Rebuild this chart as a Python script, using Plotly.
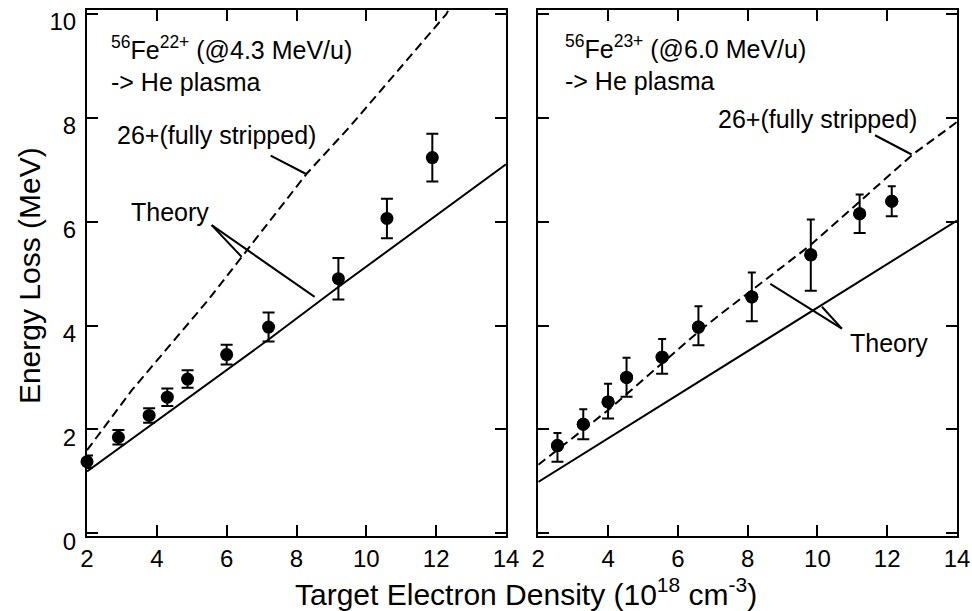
import plotly.graph_objects as go

# ---------------- data ----------------
# Left panel: 56Fe22+ @4.3 MeV/u
left_x = [2.0, 2.9, 3.78, 4.3, 4.88, 6.0, 7.2, 9.2, 10.59, 11.89]
left_y = [1.38, 1.85, 2.27, 2.62, 2.97, 3.44, 3.97, 4.90, 6.06, 7.23]
left_err = [0.12, 0.14, 0.14, 0.17, 0.17, 0.19, 0.28, 0.40, 0.38, 0.46]

left_theory_x = [2, 4, 7.2, 9.2, 14]
left_theory_y = [1.19, 2.17, 3.73, 4.74, 7.10]

left_full_x = [2, 3.29, 5.47, 6.43, 8.29, 9.52, 12.29, 12.45]
left_full_y = [1.60, 2.76, 4.49, 5.32, 6.92, 7.82, 9.99, 10.2]

# Right panel: 56Fe23+ @6.0 MeV/u
right_x = [2.55, 3.29, 4.0, 4.53, 5.55, 6.59, 8.12, 9.81, 11.21, 12.13]
right_y = [1.69, 2.10, 2.53, 3.00, 3.39, 3.97, 4.55, 5.36, 6.15, 6.39]
right_err_up = [0.24, 0.29, 0.35, 0.38, 0.35, 0.40, 0.47, 0.68, 0.37, 0.29]
right_err_dn = [0.31, 0.29, 0.32, 0.37, 0.32, 0.35, 0.47, 0.69, 0.37, 0.29]

right_theory_x = [2, 9.88, 14]
right_theory_y = [0.99, 4.29, 6.02]

right_full_x = [2, 4, 6.59, 7.13, 9.79, 12.75, 13.93, 14]
right_full_y = [1.32, 2.37, 3.88, 4.17, 5.54, 7.30, 7.88, 7.92]

x_ticks = [2, 4, 6, 8, 10, 12, 14]
y_ticks = [0, 2, 4, 6, 8, 10]

FONT = "Liberation Sans, Arial, sans-serif"
BLACK = "black"

fig = go.Figure()

# theory lines
fig.add_trace(go.Scatter(x=left_theory_x, y=left_theory_y, mode="lines",
                         line=dict(color=BLACK, width=2), xaxis="x", yaxis="y"))
fig.add_trace(go.Scatter(x=left_full_x, y=left_full_y, mode="lines",
                         line=dict(color=BLACK, width=2, dash="9px,5px"), xaxis="x", yaxis="y"))
fig.add_trace(go.Scatter(x=right_theory_x, y=right_theory_y, mode="lines",
                         line=dict(color=BLACK, width=2), xaxis="x2", yaxis="y2"))
fig.add_trace(go.Scatter(x=right_full_x, y=right_full_y, mode="lines",
                         line=dict(color=BLACK, width=2, dash="9px,5px"), xaxis="x2", yaxis="y2"))

# data points
fig.add_trace(go.Scatter(x=left_x, y=left_y, mode="markers", cliponaxis=False,
                         marker=dict(color=BLACK, size=13, symbol="circle"),
                         error_y=dict(type="data", array=left_err, visible=True,
                                      color=BLACK, thickness=2, width=6),
                         xaxis="x", yaxis="y"))
zeros = [0] * len(right_x)
fig.add_trace(go.Scatter(x=right_x, y=right_y, mode="markers", cliponaxis=False,
                         marker=dict(color=BLACK, size=13, symbol="circle"),
                         error_y=dict(type="data", symmetric=False, array=right_err_up,
                                      arrayminus=zeros, visible=True,
                                      color=BLACK, thickness=2, width=4),
                         xaxis="x2", yaxis="y2"))
fig.add_trace(go.Scatter(x=right_x, y=right_y, mode="markers", cliponaxis=False,
                         marker=dict(color=BLACK, size=13, symbol="circle"),
                         error_y=dict(type="data", symmetric=False, array=zeros,
                                      arrayminus=right_err_dn, visible=True,
                                      color=BLACK, thickness=2, width=6),
                         xaxis="x2", yaxis="y2"))

axis_common = dict(showline=True, linecolor=BLACK, linewidth=2, mirror="ticks",
                   ticks="inside", ticklen=11, tickwidth=2, tickcolor=BLACK,
                   showgrid=False, zeroline=False, ticklabeloverflow="allow",
                   automargin=False,
                   tickfont=dict(family=FONT, size=24, color=BLACK))

fig.update_layout(
    width=972, height=611,
    margin=dict(l=87, r=15, t=10, b=75),
    paper_bgcolor="white", plot_bgcolor="white",
    showlegend=False,
    xaxis=dict(domain=[0, 0.4816], range=[2, 14], tickvals=x_ticks, anchor="y", **axis_common),
    xaxis2=dict(domain=[0.5187, 1], range=[2, 14], tickvals=x_ticks, anchor="y2", **axis_common),
    yaxis=dict(domain=[0, 1], range=[-0.05, 10.07], tickvals=y_ticks, anchor="x",
               ticklabelshift=8, ticklabelstandoff=4, **axis_common),
    yaxis2=dict(domain=[0, 1], range=[-0.05, 10.07], tickvals=y_ticks, anchor="x2",
                showticklabels=False, **axis_common),
)

ann_font = dict(family=FONT, size=25, color=BLACK)
annotations = [
    dict(x=2.64, y=9.03, xref="x", yref="y",
         text="<sup>56</sup>Fe<sup>22+</sup> (@4.3 MeV/u)<br>-> He plasma"),
    dict(x=2.81, y=7.66, xref="x", yref="y", text="26+(fully stripped)"),
    dict(x=3.19, y=6.18, xref="x", yref="y", text="Theory"),
    dict(x=2.70, y=9.05, xref="x2", yref="y2",
         text="<sup>56</sup>Fe<sup>23+</sup> (@6.0 MeV/u)<br>-> He plasma"),
    dict(x=7.08, y=7.98, xref="x2", yref="y2", text="26+(fully stripped)"),
    dict(x=10.89, y=3.66, xref="x2", yref="y2", text="Theory"),
]
for a in annotations:
    fig.add_annotation(showarrow=False, xanchor="left", yanchor="middle", align="left",
                       font=ann_font, **a)

# axis titles
fig.add_annotation(text="Energy Loss (MeV)", xref="paper", yref="paper",
                   x=-0.0667, y=0.496, xanchor="center", yanchor="middle",
                   textangle=-90, showarrow=False,
                   font=dict(family=FONT, size=30, color=BLACK))
fig.add_annotation(text="Target Electron Density (10<sup>18</sup> cm<sup>-3</sup>)",
                   xref="paper", yref="paper", x=0.505, y=-0.1065,
                   xanchor="center", yanchor="middle", showarrow=False,
                   font=dict(family=FONT, size=30, color=BLACK))

# leader lines for labels
leaders = [
    ("x", "y", 7.26, 7.27, 8.29, 6.91),
    ("x", "y", 5.57, 5.93, 6.43, 5.32),
    ("x", "y", 5.57, 5.93, 8.52, 4.55),
    ("x2", "y2", 11.65, 7.66, 12.70, 7.29),
    ("x2", "y2", 10.70, 3.94, 8.65, 4.80),
    ("x2", "y2", 10.70, 3.94, 10.13, 4.36),
]
for xr, yr, x0, y0, x1, y1 in leaders:
    fig.add_shape(type="line", xref=xr, yref=yr, x0=x0, y0=y0, x1=x1, y1=y1,
                  line=dict(color=BLACK, width=2))

fig.write_html("out.html", config={"displayModeBar": False},
               post_script="document.body.style.margin='0px';")
